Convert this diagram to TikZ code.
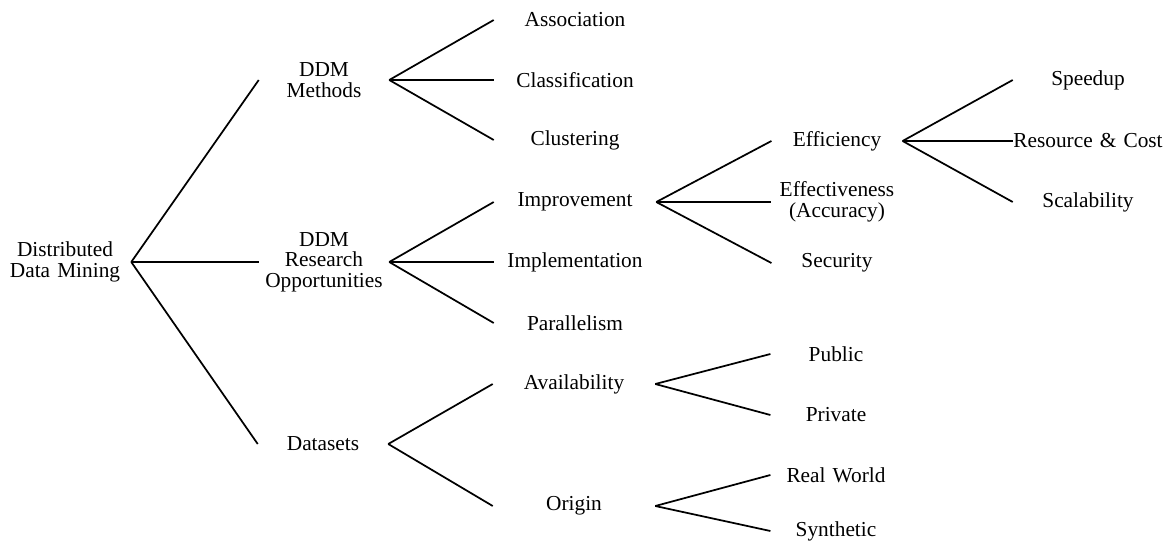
\documentclass[tikz,border=0pt]{standalone}
\usepackage{fontspec}
\setmainfont{Liberation Serif}
\usepackage{tikz}

\tikzset{
  lvlroot/.style={text width=99pt, align=center, inner sep=0pt},
  lvlone/.style={text width=97.5pt, align=center, inner sep=0pt},
  lvltwo/.style={text width=121.5pt, align=center, inner sep=0pt},
  lvlthree/.style={text width=98pt, align=center, inner sep=0pt},
  lvlfour/.style={text width=112.5pt, align=center, inner sep=0pt},
  branch/.style={line width=1.3pt}
}

\begin{document}
\begin{tikzpicture}[x=0.75pt, y=-0.75pt, font=\fontsize{16}{15.5}\selectfont]
\useasboundingbox (0,0) rectangle (1164,543);
\node[lvlroot] (root) at (65,262) {Distributed\\Data Mining};
\node[lvlone] (meth) at (324,80) {DDM\\Methods};
\node[lvlone] (resr) at (324,262) {DDM\\Research\\Opportunities};
\node[lvlone] (data) at (323,444) {Datasets};
\draw[branch] (root.east) -- (meth.west);
\draw[branch] (root.east) -- (resr.west);
\draw[branch] (root.east) -- (data.west);
\node[lvltwo] (assoc) at (575,20) {Association};
\node[lvltwo] (class) at (575,80) {Classification};
\node[lvltwo] (clus) at (575,140) {Clustering};
\draw[branch] (meth.east) -- (assoc.west);
\draw[branch] (meth.east) -- (class.west);
\draw[branch] (meth.east) -- (clus.west);
\node[lvltwo] (impr) at (575,202) {Improvement};
\node[lvltwo] (impl) at (575,262) {Implementation};
\node[lvltwo] (para) at (575,323) {Parallelism};
\draw[branch] (resr.east) -- (impr.west);
\draw[branch] (resr.east) -- (impl.west);
\draw[branch] (resr.east) -- (para.west);
\node[lvltwo] (avail) at (574,384) {Availability};
\node[lvltwo] (orig) at (574,506) {Origin};
\draw[branch] (data.east) -- (avail.west);
\draw[branch] (data.east) -- (orig.west);
\node[lvlthree] (effi) at (837,141) {Efficiency};
\node[lvlthree] (effe) at (837,202) {Effectiveness\\(Accuracy)};
\node[lvlthree] (secu) at (837,263) {Security};
\draw[branch] (impr.east) -- (effi.west);
\draw[branch] (impr.east) -- (effe.west);
\draw[branch] (impr.east) -- (secu.west);
\node[lvlthree] (publ) at (836,354) {Public};
\node[lvlthree] (priv) at (836,415) {Private};
\draw[branch] (avail.east) -- (publ.west);
\draw[branch] (avail.east) -- (priv.west);
\node[lvlthree] (real) at (836,475) {Real World};
\node[lvlthree] (synt) at (836,531) {Synthetic};
\draw[branch] (orig.east) -- (real.west);
\draw[branch] (orig.east) -- (synt.west);
\node[lvlfour] (speed) at (1088,80) {Speedup};
\node[lvlfour] (reso) at (1088,141) {Resource \& Cost};
\node[lvlfour] (scal) at (1088,202) {Scalability};
\draw[branch] (effi.east) -- (speed.west);
\draw[branch] (effi.east) -- (reso.west);
\draw[branch] (effi.east) -- (scal.west);
\end{tikzpicture}
\end{document}
